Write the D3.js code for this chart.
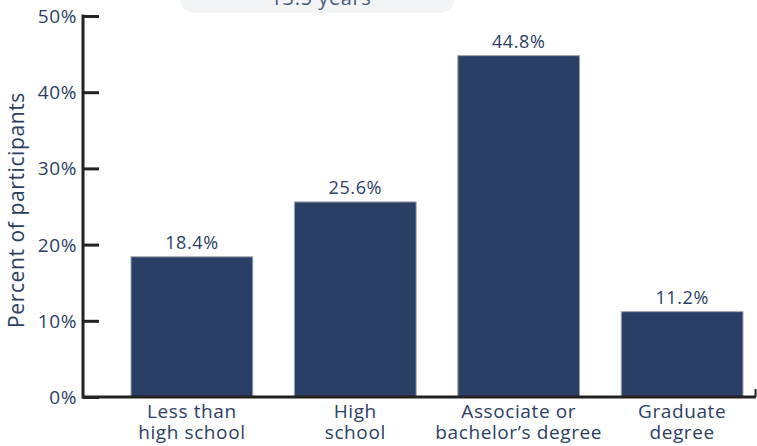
<!DOCTYPE html>
<html><head><meta charset="utf-8">
<script src="https://cdn.jsdelivr.net/npm/d3@7"></script>
<style>
html,body{margin:0;padding:0;background:#fff;}
text{font-family:"Open Sans","Noto Sans",sans-serif;letter-spacing:0.6px;}
</style></head>
<body>
<svg id="chart" width="757" height="446"></svg>
<script>
const categories = [["Less than","high school"],["High","school"],["Associate or","bachelor’s degree"],["Graduate","degree"]];
const values = [18.4, 25.6, 44.8, 11.2];
const yTicks = [0, 10, 20, 30, 40, 50];
const yLabel = "Percent of participants";
const calloutText = "13.5 years";

const svg = d3.select("#chart");
const navy = "#2a3f66";
const textCol = "#2c3e63";

const x = d3.scaleBand().domain(d3.range(categories.length)).range([131, 743]).paddingInner(0.255).paddingOuter(0);
const y = d3.scaleLinear().domain([0, 50]).range([397, 16]);

// callout box (partially off top, as in the reference)
svg.append("rect").attr("x", 180).attr("y", -30).attr("width", 274).attr("height", 43)
  .attr("rx", 14).attr("fill", "#f3f4f6");
svg.append("text").attr("x", 321).attr("y", 5).attr("text-anchor", "middle")
  .attr("font-size", 20).attr("fill", "#4a5b80").text(calloutText);

// bars
svg.selectAll("rect.bar").data(values).enter().append("rect").attr("class", "bar")
  .attr("x", (d, i) => x(i)).attr("width", x.bandwidth())
  .attr("y", d => y(d)).attr("height", d => y(0) - y(d))
  .attr("fill", navy).attr("stroke", "#a0a4ab").attr("stroke-width", 1);

// value labels
svg.selectAll("text.val").data(values).enter().append("text").attr("class", "val")
  .attr("x", (d, i) => x(i) + x.bandwidth() / 2).attr("y", d => y(d) - 8)
  .attr("text-anchor", "middle").attr("font-size", 18).attr("fill", textCol)
  .text(d => d.toFixed(1) + "%");

// y axis ticks
const yAxis = d3.axisRight(y).tickValues(yTicks).tickSize(16).tickFormat("");
const gy = svg.append("g").attr("transform", "translate(83,0)").call(yAxis);
gy.select(".domain").remove();
gy.selectAll(".tick line").attr("stroke", "#222").attr("stroke-width", 3);
svg.append("line").attr("x1", 83).attr("x2", 83).attr("y1", y(50) - 1.5).attr("y2", y(0) + 1.5)
  .attr("stroke", "#222").attr("stroke-width", 3);
svg.selectAll("text.ytick").data(yTicks).enter().append("text").attr("class", "ytick")
  .attr("x", 77).attr("y", d => y(d) + 7).attr("text-anchor", "end")
  .attr("font-size", 19).attr("fill", textCol).text(d => d + "%");

// x axis line
svg.append("line").attr("x1", 83).attr("x2", 756).attr("y1", y(0)).attr("y2", y(0))
  .attr("stroke", "#222").attr("stroke-width", 3);
svg.append("line").attr("x1", 755.5).attr("x2", 755.5).attr("y1", y(0)).attr("y2", y(0) - 8)
  .attr("stroke", "#222").attr("stroke-width", 2);

// category labels
const cl = svg.selectAll("text.cat").data(categories).enter().append("text").attr("class", "cat")
  .attr("text-anchor", "middle").attr("font-size", 19).attr("fill", textCol);
cl.each(function(d, i) {
  const t = d3.select(this);
  d.forEach((line, j) => {
    t.append("tspan").attr("x", x(i) + x.bandwidth() / 2).attr("y", 418 + j * 21).text(line);
  });
});

// y label
svg.append("text").attr("transform", "translate(24,210) rotate(-90)")
  .attr("text-anchor", "middle").attr("font-size", 21).attr("fill", textCol).text(yLabel);
</script>
</body></html>
